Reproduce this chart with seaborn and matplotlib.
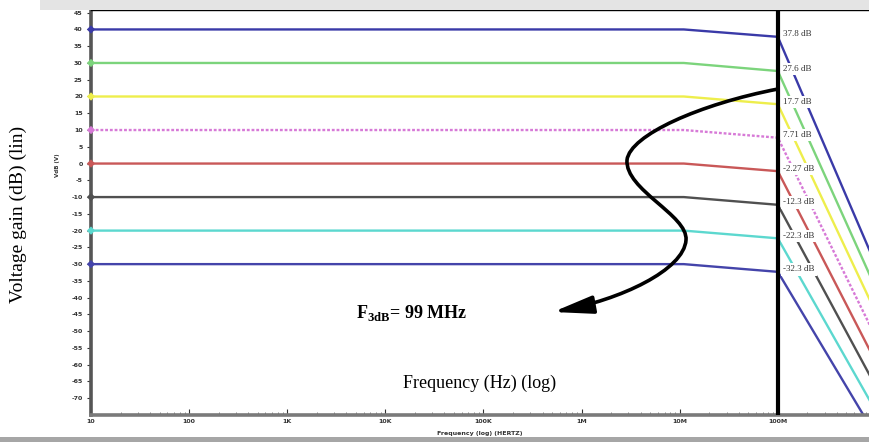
import matplotlib
matplotlib.use("Agg")
import matplotlib.pyplot as plt
import pandas as pd
import seaborn as sns
from matplotlib.patches import FancyArrowPatch, Rectangle
from matplotlib.path import Path

# --- data ---
FREQ_HZ = [10, 1.1e7, 1e8, 8.7e8]
CURVES = ["37.8 dB", "27.6 dB", "17.7 dB", "7.71 dB", "-2.27 dB", "-12.3 dB", "-22.3 dB", "-32.3 dB"]
GAIN_MIDBAND = [40.0, 30.0, 20.0, 10.0, 0.0, -10.0, -20.0, -30.0]
GAIN_AT_100M = [37.8, 27.6, 17.7, 7.71, -2.27, -12.3, -22.3, -32.3]
GAIN_AT_870M = [-26.2, -33.4, -40.8, -48.3, -55.8, -63.3, -70.8, -78.3]
COLORS = ["#3a3aa8", "#7cd47c", "#eeee4c", "#d77ad7", "#c95858", "#505050", "#5cd8cf", "#4444aa"]
Y_TICKS = list(range(-70, 50, 5))
X_TICKS = [10, 1e2, 1e3, 1e4, 1e5, 1e6, 1e7, 1e8]
X_TICK_LABELS = ["10", "100", "1K", "10K", "100K", "1M", "10M", "100M"]

W, H = 870, 442


def fx(px):
    return px / W


def fy(py):
    return 1 - py / H


def build_frame() -> pd.DataFrame:
    rows = []
    for name, mid, g100, gend in zip(CURVES, GAIN_MIDBAND, GAIN_AT_100M, GAIN_AT_870M):
        for f, g in zip(FREQ_HZ, [mid, mid, g100, gend]):
            rows.append({"curve": name, "freq": f, "gain": g})
    return pd.DataFrame(rows)


def main() -> None:
    sns.set_theme(style="white")
    plt.rcParams.update({
        "font.family": ["DejaVu Sans"],
        "mathtext.fontset": "custom",
        "mathtext.rm": "Liberation Serif",
        "mathtext.bf": "Liberation Serif:bold",
    })
    df = build_frame()

    fig = plt.figure(figsize=(W / 100, H / 100), dpi=100)
    fig.patch.set_facecolor("white")
    ax = fig.add_axes([fx(91), fy(415), fx(870 - 91), (415 - 10) / H])
    ax.set_xscale("log")

    palette = dict(zip(CURVES, COLORS))
    dashes = {c: "" for c in CURVES}
    dashes["7.71 dB"] = (1.2, 0.8)
    sns.lineplot(data=df, x="freq", y="gain", hue="curve", style="curve",
                 palette=palette, dashes=dashes, linewidth=1.7, sort=False,
                 estimator=None, legend=False, ax=ax, zorder=2)
    first = df.groupby("curve", sort=False).head(1)
    sns.scatterplot(data=first, x="freq", y="gain", hue="curve", palette=palette,
                    s=18, marker="D", edgecolor="none", legend=False, ax=ax,
                    zorder=3, clip_on=False)

    ax.axvline(1e8, color="black", lw=3, zorder=4)

    ax.set_xlim(10, 8.7e8)
    ax.set_ylim(-75, 45.8)
    ax.set_yticks(Y_TICKS)
    ax.set_yticklabels([str(v) for v in Y_TICKS])
    ax.set_xticks(X_TICKS)
    ax.set_xticklabels(X_TICK_LABELS)
    ax.set_xlabel("")
    ax.set_ylabel("")
    ax.tick_params(axis="y", direction="out", length=3, width=0.8, labelsize=4.5,
                   pad=3, colors="#333333", left=True)
    ax.tick_params(axis="x", which="major", direction="in", length=4, width=0.8,
                   labelsize=4.5, pad=3, colors="#333333", bottom=True)
    ax.tick_params(axis="x", which="minor", direction="in", length=2, width=0.5,
                   bottom=True, colors="#555555")
    for lab in ax.get_xticklabels() + ax.get_yticklabels():
        lab.set_fontweight("bold")

    ax.spines["right"].set_visible(False)
    ax.spines["top"].set_linewidth(1.0)
    ax.spines["top"].set_color("black")
    ax.spines["left"].set_linewidth(2.6)
    ax.spines["left"].set_color("#555555")
    ax.spines["bottom"].set_linewidth(2.6)
    ax.spines["bottom"].set_color("#7a7a7a")

    # value boxes at the 100 MHz marker
    for name, g in zip(CURVES, GAIN_AT_100M):
        ax.text(1.13e8, g + 0.7, name, fontsize=6.5, family="Liberation Serif",
                color="#333333", ha="left", va="center", zorder=5,
                bbox=dict(facecolor="white", edgecolor="none", pad=1.5))

    # tiny simulator labels
    fig.text(fx(57), fy(165), "VdB (V)", rotation=90, fontsize=4, fontweight="bold",
             ha="center", va="center", color="#333333")
    fig.text(fx(480), fy(434), "Frequency (log) (HERTZ)", fontsize=4.5,
             fontweight="bold", ha="center", va="center", color="#333333")

    # overlaid paper annotations
    fig.text(fx(18), fy(214), "Voltage gain (dB) (lin)", rotation=90, fontsize=14,
             family="Liberation Serif", ha="center", va="center", color="black")
    fig.text(fx(480), fy(383), "Frequency (Hz) (log)", fontsize=13,
             family="Liberation Serif", ha="center", va="center", color="black")
    fig.text(fx(356), fy(318), r"$\mathbf{F}_{\mathbf{3dB}}$" + "= 99 MHz", fontsize=13,
             family="Liberation Serif", fontweight="bold", ha="left", va="baseline",
             color="black")

    pts = [(778, 89), (700, 104), (630, 135), (627, 160),
           (625, 190), (688, 215), (686, 240),
           (684, 270), (620, 300), (553, 312)]
    codes = [Path.MOVETO] + [Path.CURVE4] * 9
    path = Path([(fx(x), fy(y)) for x, y in pts], codes)
    arrow = FancyArrowPatch(path=path, arrowstyle="-|>,head_length=2.0,head_width=0.45",
                            mutation_scale=12, lw=2.6, color="black",
                            transform=fig.transFigure, zorder=10)
    fig.patches.append(arrow)

    # screenshot borders
    fig.patches.append(Rectangle((fx(40), fy(10)), 1 - fx(40), 10 / H,
                                 transform=fig.transFigure, facecolor="#e4e4e4",
                                 edgecolor="none", zorder=0))
    fig.patches.append(Rectangle((0, 0), 1, 5 / H, transform=fig.transFigure,
                                 facecolor="#a6a6a6", edgecolor="none", zorder=0))

    fig.savefig("out.png", dpi=100, facecolor="white")


if __name__ == "__main__":
    main()
